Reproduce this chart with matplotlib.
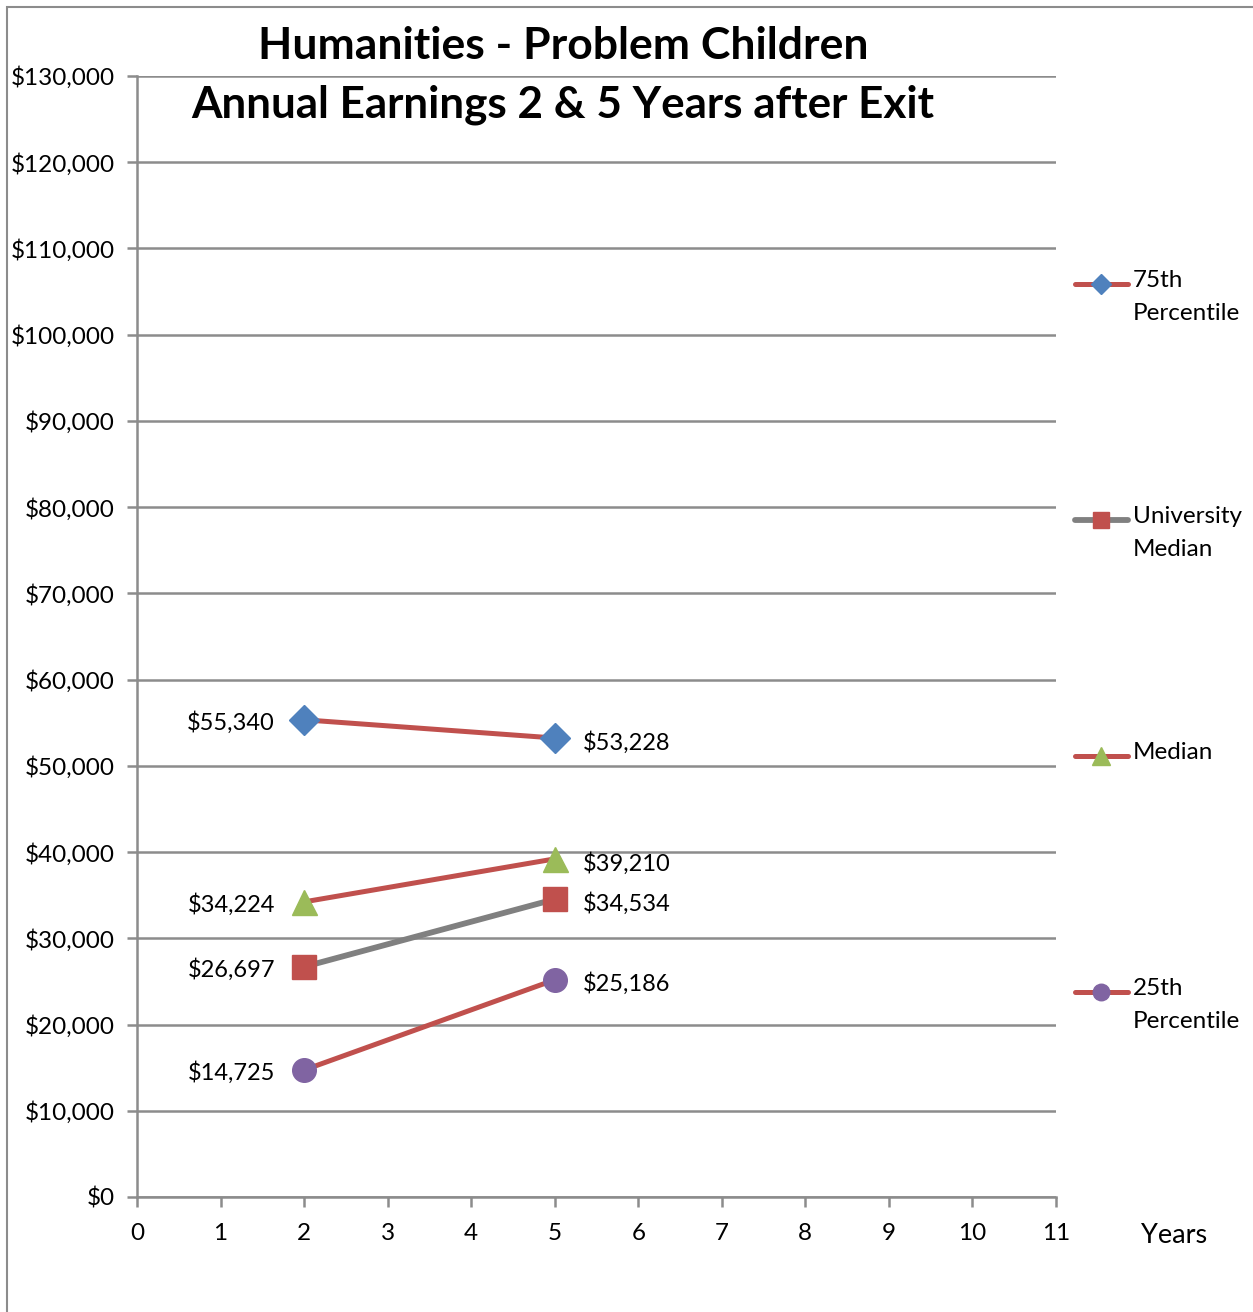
import matplotlib
matplotlib.use('Agg')
import matplotlib.pyplot as plt
from matplotlib.patches import Rectangle

years = [2, 5]
pct75 = [55340, 53228]
uni_median = [26697, 34534]
median = [34224, 39210]
pct25 = [14725, 25186]

series_names = ['75th\nPercentile', 'University\nMedian', 'Median', '25th\nPercentile']

RED = '#C0504D'
BLUE = '#4F81BD'
GREEN = '#9BBB59'
PURPLE = '#8064A2'
GRAY = '#808080'

plt.rcParams['font.family'] = ['Lato', 'DejaVu Sans']

fig = plt.figure(figsize=(12.53, 13.12), dpi=100)
ax = fig.add_axes([137 / 1253, 1 - 1197 / 1312, 919 / 1253, 1121 / 1312])

# outer chart border (only top and left visible in the reference)
fig.add_artist(Rectangle((7 / 1253, -0.5), 2, 1.5 - 7 / 1312, transform=fig.transFigure,
                         fill=False, edgecolor='#8c8c8c', linewidth=1.5, clip_on=False))

styles = [
    (pct75, RED, 'D', BLUE, 15, 3.6),
    (uni_median, GRAY, 's', RED, 17, 4.2),
    (median, RED, '^', GREEN, 18, 3.6),
    (pct25, RED, 'o', PURPLE, 17, 3.6),
]

for vals, lc, mk, mc, ms, lw in styles:
    ax.plot(years, vals, color=lc, linewidth=lw, marker=mk, markersize=ms,
            markerfacecolor=mc, markeredgecolor=mc, zorder=3, solid_capstyle='round')
    ax.annotate('${:,}'.format(vals[0]), (years[0], vals[0]), xytext=(-21, -2),
                textcoords='offset points', ha='right', va='center', fontsize=17)
    ax.annotate('${:,}'.format(vals[1]), (years[1], vals[1]), xytext=(20, -3),
                textcoords='offset points', ha='left', va='center', fontsize=17)

ax.set_xlim(0, 11)
ax.set_ylim(0, 130000)
ax.set_xticks(range(0, 12))
ax.set_yticks(range(0, 130001, 10000))
ax.set_yticklabels(['${:,}'.format(v) for v in range(0, 130001, 10000)])
ax.tick_params(axis='both', labelsize=17.5, color='#8c8c8c', width=1.8, length=7)
ax.tick_params(axis='y', pad=9)
ax.tick_params(axis='x', pad=12)
ax.grid(axis='y', color='#8c8c8c', linewidth=1.8)
ax.set_axisbelow(True)
for side in ['top', 'right']:
    ax.spines[side].set_visible(False)
for side in ['left', 'bottom']:
    ax.spines[side].set_color('#8c8c8c')
    ax.spines[side].set_linewidth(1.8)

ax.text(1.128, -0.034, 'Years', transform=ax.transAxes, fontsize=19.5, ha='center', va='center')

fig.text(563 / 1253, 1 - 46 / 1312, 'Humanities - Problem Children', fontsize=32,
         fontweight='bold', ha='center', va='center')
fig.text(563 / 1253, 1 - 105 / 1312, 'Annual Earnings 2 & 5 Years after Exit', fontsize=31.7,
         fontweight='bold', ha='center', va='center')

# legend drawn at the right, one entry per series
legend_y = [0.8144, 0.6039, 0.3934, 0.1829]
for (vals, lc, mk, mc, ms, lw), name, ly in zip(styles, series_names, legend_y):
    ax.plot([1.0207, 1.0783], [ly, ly], color=lc, linewidth=lw, transform=ax.transAxes,
            clip_on=False, solid_capstyle='round')
    ax.plot([1.0495], [ly], marker=mk, markersize=ms * 0.7, color=mc,
            transform=ax.transAxes, clip_on=False)
    ax.text(1.0838, ly + 0.0125, name, transform=ax.transAxes, fontsize=17.5,
            ha='left', va='top', linespacing=1.7)

fig.savefig('out.png', dpi=100)
